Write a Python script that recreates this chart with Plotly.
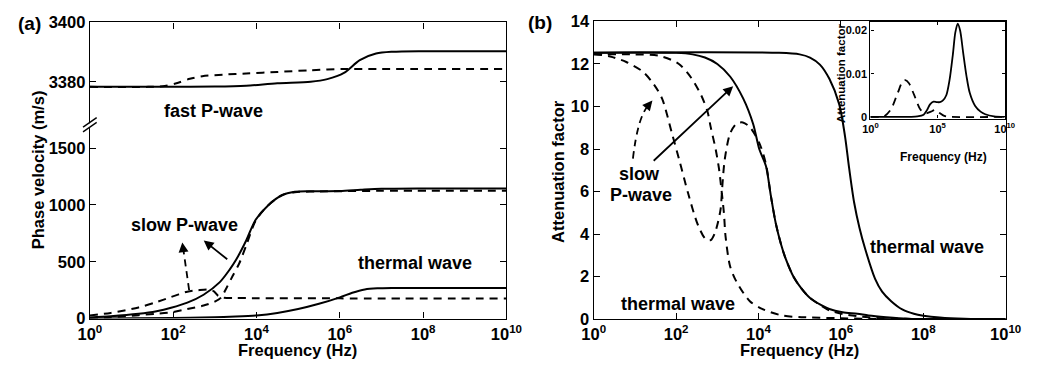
import numpy as np
import plotly.graph_objects as go

W, H = 1047, 380

# ---------------- data (frequencies given as log10(Hz)) ----------------
# Panel (a) - upper part: fast P-wave phase velocity (m/s)
a_fast_solid_logf = [0, 2, 3, 3.75, 4.5, 5.3, 5.7, 6.1, 6.48, 6.87, 7.26, 8, 10]
a_fast_solid_v = [3378.3, 3378.3, 3378.4, 3378.7, 3379.5, 3380.0, 3380.9, 3383.0, 3387.3, 3389.5, 3390.1, 3390.3, 3390.3]
a_fast_dash_logf = [0, 1.4, 1.8, 2.1, 2.4, 2.7, 3.2, 3.75, 4.5, 5.3, 6.1, 7, 10]
a_fast_dash_v = [3378.3, 3378.3, 3378.6, 3379.6, 3381.0, 3381.9, 3382.4, 3382.8, 3383.3, 3383.9, 3384.3, 3384.3, 3384.3]

# Panel (a) - lower part: slow P-wave and thermal wave
a_slow_solid_logf = [0, 0.5, 1.17, 1.6, 1.95, 2.34, 2.73, 3.12, 3.36, 3.51, 3.75, 3.98, 4.29, 4.61, 4.92, 5.3, 6.0, 6.5, 7.0, 8.0, 10]
a_slow_solid_v = [10, 20, 42, 65, 95, 140, 210, 321, 433, 517, 685, 870, 1000, 1085, 1115, 1120, 1122, 1133, 1142, 1145, 1145]
a_slow_dash_logf = [0, 0.5, 1.17, 1.56, 2.0, 2.34, 2.73, 3.0, 3.15, 3.28, 3.43, 3.59, 3.75, 3.98, 4.29, 4.61, 4.92, 5.5, 7, 10]
a_slow_dash_v = [5, 12, 30, 42, 58, 84, 115, 150, 185, 270, 377, 489, 640, 860, 1000, 1085, 1112, 1118, 1124, 1125]
a_therm_solid_logf = [0, 2, 3, 3.5, 4, 4.5, 5, 5.5, 6, 6.3, 6.6, 6.9, 7.3, 10]
a_therm_solid_v = [2, 5, 12, 18, 28, 50, 84, 130, 187, 228, 257, 267, 270, 270]
a_therm_dash_logf = [0, 0.5, 1.17, 1.56, 1.95, 2.34, 2.6, 2.85, 2.98, 3.08, 3.2, 3.5, 4, 6, 10]
a_therm_dash_v = [28, 50, 98, 140, 190, 237, 250, 256, 240, 200, 185, 181, 180, 178, 177]

# Panel (b): attenuation factor
b_slow_solid_logf = [0, 2.0, 2.4, 2.7, 3.0, 3.31, 3.63, 3.87, 4.02, 4.18, 4.3, 4.42, 4.55, 4.65, 4.85, 5.04, 5.25, 5.49, 5.72, 6.04, 6.4, 6.67, 7.1, 7.61, 8.5, 10]
b_slow_solid_v = [12.53, 12.52, 12.45, 12.3, 12.0, 11.41, 10.37, 9.18, 7.99, 7.2, 5.8, 4.5, 3.5, 2.9, 2.0, 1.45, 1.0, 0.7, 0.48, 0.33, 0.26, 0.18, 0.1, 0.03, 0.01, 0]
b_therm_solid_logf = [0, 4.5, 5.0, 5.25, 5.49, 5.72, 5.96, 6.1, 6.2, 6.32, 6.45, 6.59, 6.83, 7.0, 7.22, 7.5, 7.77, 8.0, 8.4, 9.0, 10]
b_therm_solid_v = [12.53, 12.52, 12.45, 12.3, 11.97, 11.3, 10.1, 8.6, 7.1, 5.5, 4.3, 3.3, 1.9, 1.3, 0.85, 0.45, 0.26, 0.17, 0.08, 0.02, 0]
b_slow_dash_logf = [0, 0.4, 0.79, 1.19, 1.46, 1.66, 1.9, 2.09, 2.29, 2.53, 2.72, 2.84, 2.95, 3.0, 3.08, 3.12, 3.18, 3.31, 3.47, 3.62, 3.79, 4.02, 4.18, 4.3, 4.42, 4.55, 4.65, 4.85, 5.04, 5.25, 5.49, 5.72, 6.04, 6.5, 7, 8, 10]
b_slow_dash_v = [12.46, 12.35, 12.09, 11.64, 11.04, 10.37, 8.73, 7.39, 5.93, 4.43, 3.76, 3.72, 4.1, 4.43, 5.18, 6.22, 7.5, 8.73, 9.2, 9.25, 9.03, 8.28, 7.3, 5.8, 4.5, 3.5, 2.9, 2.0, 1.45, 1.0, 0.68, 0.42, 0.25, 0.12, 0.05, 0.01, 0]
b_therm_dash_logf = [0, 1.0, 1.58, 2.06, 2.37, 2.61, 2.76, 2.84, 2.96, 3.04, 3.1, 3.16, 3.2, 3.31, 3.47, 3.79, 4.1, 4.57, 5.04, 6.0, 7.0, 10]
b_therm_dash_v = [12.46, 12.45, 12.39, 12.01, 11.34, 10.52, 9.78, 9.03, 7.99, 7.09, 6.1, 5.0, 3.9, 2.49, 1.75, 0.85, 0.48, 0.18, 0.1, 0.05, 0.01, 0]

# Inset of panel (b)
ins_solid_logf = [0, 3.0, 3.5, 3.96, 4.2, 4.44, 4.7, 4.95, 5.17, 5.4, 5.65, 5.89, 6.14, 6.32, 6.5, 6.68, 6.9, 7.15, 7.4, 7.8, 8.2, 8.55, 9.2, 10]
ins_solid_v = [0, 0, 0.0001, 0.0005, 0.0015, 0.0029, 0.0035, 0.0034, 0.0034, 0.0038, 0.0050, 0.0085, 0.0145, 0.0195, 0.0216, 0.0200, 0.0150, 0.0095, 0.0055, 0.0025, 0.0012, 0.0006, 0.0001, 0]
ins_dash_logf = [0, 0.8, 1.06, 1.54, 2.03, 2.4, 2.6, 2.87, 3.24, 3.72, 4.1, 4.5, 4.8, 5.1, 5.5, 6, 10]
ins_dash_v = [0, 0, 0.0002, 0.0018, 0.0055, 0.0082, 0.0085, 0.0078, 0.0052, 0.0017, 0.0008, 0.0012, 0.0016, 0.0010, 0.0002, 0, 0]

x_tick_vals = [1e0, 1e2, 1e4, 1e6, 1e8, 1e10]
x_tick_text = ["10<sup>0</sup>", "10<sup>2</sup>", "10<sup>4</sup>", "10<sup>6</sup>", "10<sup>8</sup>", "10<sup>10</sup>"]
ins_x_tick_vals = [1e0, 1e5, 1e10]
ins_x_tick_text = ["10<sup>0</sup>", "10<sup>5</sup>", "10<sup>10</sup>"]

# ---------------- helpers ----------------
FONT = "Liberation Sans, Arial, sans-serif"
DASH = "8px,6px"


def fx(x):
    return x / W


def fy(y):
    return 1 - y / H


def hz(logf):
    return 10.0 ** np.array(logf, dtype=float)


def line_trace(logf, v, xa, ya, dashed=False, width=2.0):
    return go.Scatter(
        x=hz(logf), y=v, xaxis=xa, yaxis=ya, mode="lines",
        line=dict(color="black", width=width, dash=DASH if dashed else "solid",
                  shape="spline", smoothing=0.8),
        hoverinfo="skip", showlegend=False,
    )


fig = go.Figure()
# panel (a)
fig.add_trace(line_trace(a_fast_solid_logf, a_fast_solid_v, "x2", "y2"))
fig.add_trace(line_trace(a_fast_dash_logf, a_fast_dash_v, "x2", "y2", dashed=True))
fig.add_trace(line_trace(a_slow_solid_logf, a_slow_solid_v, "x", "y"))
fig.add_trace(line_trace(a_slow_dash_logf, a_slow_dash_v, "x", "y", dashed=True))
fig.add_trace(line_trace(a_therm_solid_logf, a_therm_solid_v, "x", "y"))
fig.add_trace(line_trace(a_therm_dash_logf, a_therm_dash_v, "x", "y", dashed=True))
# panel (b)
fig.add_trace(line_trace(b_slow_solid_logf, b_slow_solid_v, "x3", "y3"))
fig.add_trace(line_trace(b_therm_solid_logf, b_therm_solid_v, "x3", "y3"))
fig.add_trace(line_trace(b_slow_dash_logf, b_slow_dash_v, "x3", "y3", dashed=True))
fig.add_trace(line_trace(b_therm_dash_logf, b_therm_dash_v, "x3", "y3", dashed=True))
# inset
fig.add_trace(line_trace(ins_solid_logf, ins_solid_v, "x4", "y4", width=1.8))
fig.add_trace(line_trace(ins_dash_logf, ins_dash_v, "x4", "y4", dashed=True, width=1.8))
# empty carriers so the tick-only overlay axes of panel (b) are drawn
fig.add_trace(go.Scatter(x=[None], y=[None], xaxis="x5", yaxis="y3", showlegend=False, hoverinfo="skip"))
fig.add_trace(go.Scatter(x=[None], y=[None], xaxis="x3", yaxis="y5", showlegend=False, hoverinfo="skip"))

tickfont = dict(family=FONT, size=16.5, color="black", weight="bold")
small_tickfont = dict(family=FONT, size=11, color="black", weight="bold")
common = dict(showgrid=False, zeroline=False, showline=True, linecolor="black",
              linewidth=1.4, ticks="inside", ticklen=6, tickwidth=1.3, tickcolor="black")

# panel (a) geometry (pixels)
aL, aR, aT, aBrk, aB = 80, 508, 14, 122, 325
# panel (b) geometry
bL, bR, bT, bB = 597.7, 1021, 13, 325.7
# inset geometry
iL, iR, iT, iB = 882, 1020, 14, 115

fig.update_layout(
    width=W, height=H, margin=dict(l=0, r=0, t=0, b=0),
    paper_bgcolor="white", plot_bgcolor="white", showlegend=False,
    xaxis=dict(type="log", range=[0, 10], domain=[fx(aL), fx(aR)], anchor="y",
               tickvals=x_tick_vals, ticktext=x_tick_text, tickfont=tickfont,
               mirror=False, **common),
    yaxis=dict(range=[0, 1701], domain=[fy(aB), fy(aBrk)], anchor="x",
               tickvals=[0, 500, 1000, 1500], tickfont=tickfont, mirror="ticks", **common),
    xaxis2=dict(type="log", range=[0, 10], domain=[fx(aL), fx(aR)], anchor="y2", side="top",
                tickvals=x_tick_vals, showticklabels=False, mirror=False, **common),
    yaxis2=dict(range=[3365.4, 3400], domain=[fy(aBrk), fy(aT)], anchor="x2",
                tickvals=[3380, 3400], tickfont=tickfont, mirror="ticks", **common),
    xaxis3=dict(type="log", range=[0, 10], domain=[fx(bL), fx(bR)], anchor="y3",
                tickvals=x_tick_vals, ticktext=x_tick_text, tickfont=tickfont,
                mirror=True, **common),
    yaxis3=dict(range=[0, 14], domain=[fy(bB), fy(bT)], anchor="x3",
                tickvals=[0, 2, 4, 6, 8, 10, 12, 14], tickfont=tickfont, mirror=True, **common),
    xaxis5=dict(type="log", range=[0, 10], overlaying="x3", anchor="y3", side="top",
                tickvals=[1e2, 1e4, 1e6], showticklabels=False,
                showgrid=False, zeroline=False, showline=False,
                ticks="inside", ticklen=6, tickwidth=1.3, tickcolor="black"),
    yaxis5=dict(range=[0, 14], overlaying="y3", anchor="x3", side="right",
                tickvals=[0, 2, 4, 6, 8], showticklabels=False,
                showgrid=False, zeroline=False, showline=False,
                ticks="inside", ticklen=6, tickwidth=1.3, tickcolor="black"),
    xaxis4=dict(type="log", range=[0, 10], domain=[fx(iL), fx(iR)], anchor="y4",
                tickvals=ins_x_tick_vals, ticktext=ins_x_tick_text, tickfont=small_tickfont,
                mirror="ticks", **{**common, "ticklen": 3, "linewidth": 1.2}),
    yaxis4=dict(range=[-0.0004, 0.0219], domain=[fy(iB), fy(iT)], anchor="x4",
                tickvals=[0, 0.01, 0.02], ticktext=["0", "0.01", "0.02"], tickfont=small_tickfont,
                mirror="ticks", **{**common, "ticklen": 3, "linewidth": 1.2}),
)


def text(s, x, y, size=18, angle=0):
    fig.add_annotation(text=s, x=fx(x), y=fy(y), xref="paper", yref="paper",
                       showarrow=False, textangle=angle, xanchor="center", yanchor="middle",
                       font=dict(family=FONT, size=size, color="black", weight="bold"))


# panel labels and axis titles
text("(a)", 18, 15, 19)
text("(b)", 542, 14, 19)
text("Phase velocity (m/s)", 27, 169, 16.5, -90)
text("Frequency (Hz)", 293, 358, 16.5)
text("Attenuation factor", 561, 170, 16.5, -90)
text("Frequency (Hz)", 809, 358, 16.5)
text("Attenuation factor", 852, 67, 11.5, -90)
text("Frequency (Hz)", 957, 155, 12)

# curve labels
text("fast P-wave", 207, 107)
text("slow P-wave", 177, 227)
text("thermal wave", 414, 267)
text("slow", 645, 173)
text("P-wave", 646, 195)
text("thermal wave", 684, 310)
text("thermal wave", 940, 250)


def arrow(tail, head, width=1.8):
    fig.add_annotation(x=fx(head[0]), y=fy(head[1]), xref="paper", yref="paper",
                       ax=tail[0] - head[0], ay=tail[1] - head[1], axref="pixel", ayref="pixel",
                       text="", showarrow=True, arrowhead=2, arrowsize=1.1,
                       arrowwidth=width, arrowcolor="black", standoff=0)


# solid arrows
arrow((222, 263), (197, 243))
arrow((660, 157), (741, 81))

# dashed arrow (a): straight dashed shaft + head
fig.add_shape(type="line", xref="paper", yref="paper",
              x0=fx(182), y0=fy(295), x1=fx(176), y1=fy(252),
              line=dict(color="black", width=1.8, dash="7px,5px"))
arrow((176, 253), (175, 245))
# dashed curved arrow (b)
fig.add_shape(type="path", xref="paper", yref="paper",
              path=f"M {fx(638)},{fy(157)} Q {fx(643)},{fy(113)} {fx(654)},{fy(101)}",
              line=dict(color="black", width=1.8, dash="7px,5px"))
arrow((653, 102), (658, 96))

# axis-break mark on the left spine of panel (a)
fig.add_shape(type="rect", xref="paper", yref="paper",
              x0=fx(77), x1=fx(83), y0=fy(125), y1=fy(120),
              line=dict(width=0), fillcolor="white")
for dy in (0, 5):
    fig.add_shape(type="line", xref="paper", yref="paper",
                  x0=fx(73), y0=fy(126 + dy - 2), x1=fx(87), y1=fy(116 + dy - 2),
                  line=dict(color="black", width=1.4))

# remove the default page margin so the figure fills the 1047x380 window exactly
fig.write_html(
    "out.html",
    post_script="document.documentElement.style.margin='0';document.body.style.margin='0';"
                "document.body.style.overflow='hidden';",
)
